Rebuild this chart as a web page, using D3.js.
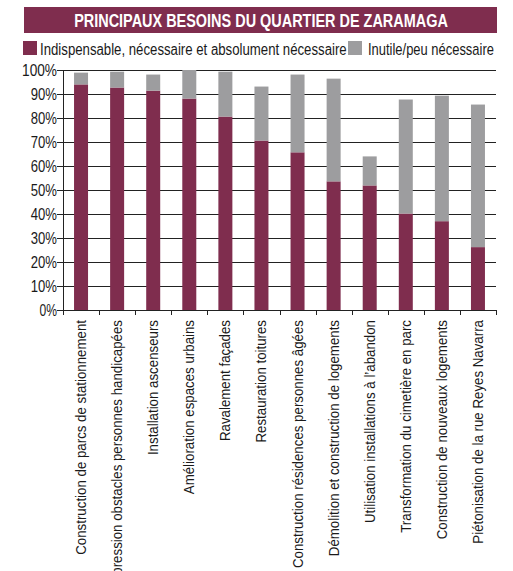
<!DOCTYPE html>
<html>
<head>
<meta charset="utf-8">
<script src="https://cdn.jsdelivr.net/npm/d3@7"></script>
<style>
	body { margin: 0; background: #fff; }
	svg { display: block; }
	text { font-family: "Liberation Sans", Arial, sans-serif; fill: #1a1a1a; }
</style>
</head>
<body>
<script>
var SIZE = { width: 513, height: 571 };
var MARGIN = { top: 70, right: 17, bottom: 261, left: 63 };

var TITLE = 'PRINCIPAUX BESOINS DU QUARTIER DE ZARAMAGA';
var seriesNames = ['Indispensable, nécessaire et absolument nécessaire', 'Inutile/peu nécessaire'];
var colors = ['#7f2d4e', '#9d9d9f'];

var categories = [
	'Construction de parcs de stationnement',
	'Suppression obstacles personnes handicapées',
	'Installation ascenseurs',
	'Amélioration espaces urbains',
	'Ravalement façades',
	'Restauration toitures',
	'Construction résidences personnes âgées',
	'Démolition et construction de logements',
	'Utilisation installations à l\u2019abandon',
	'Transformation du cimetière en parc',
	'Construction de nouveaux logements',
	'Piétonisation de la rue Reyes Navarra'
];
var indispensable = [94, 92.7, 91.4, 88.1, 80.6, 70.6, 65.7, 53.6, 51.9, 40.2, 37, 26.2];
var inutile = [4.9, 6.6, 6.7, 11.9, 18.7, 22.5, 32.4, 42.8, 12.1, 47.5, 52.3, 59.4];
var yTicks = [0, 10, 20, 30, 40, 50, 60, 70, 80, 90, 100];

var rows = categories.map(function (c, i) {
	return { cat: c, a: indispensable[i], b: inutile[i] };
});

var svg = d3.select('body').append('svg')
	.attr('width', SIZE.width)
	.attr('height', SIZE.height);

// squeeze a text horizontally so it looks like the condensed font of the original
function narrowText(parent, x, y, str, size, width, opts) {
	opts = opts || {};
	var t = parent.append('text')
		.style('font-size', size + 'px')
		.attr('text-anchor', opts.anchor || 'start')
		.text(str);
	if (opts.bold) t.style('font-weight', 'bold');
	if (opts.fill) t.style('fill', opts.fill);
	var k = width / t.node().getComputedTextLength();
	t.attr('transform', 'translate(' + x + ',' + y + ')' + (opts.rotate ? ' rotate(-90)' : '') + ' scale(' + k + ',1)');
	return k;
}

// title banner
svg.append('rect')
	.attr('x', 24).attr('y', 7)
	.attr('width', 473).attr('height', 26)
	.attr('fill', colors[0]);
narrowText(svg, 261, 27, TITLE, 18, 374, { anchor: 'middle', bold: true, fill: '#fff' });

// legend
var legend = [
	{ x: 23, tx: 40, w: 307 },
	{ x: 348, tx: 368, w: 126 }
];
legend.forEach(function (l, i) {
	svg.append('rect')
		.attr('x', l.x).attr('y', 41)
		.attr('width', 14).attr('height', 14)
		.attr('fill', colors[i]);
	narrowText(svg, l.tx, 55, seriesNames[i], 16, l.w);
});

var w = SIZE.width - MARGIN.left - MARGIN.right;
var h = SIZE.height - MARGIN.top - MARGIN.bottom;
var g = svg.append('g').attr('transform', 'translate(' + MARGIN.left + ',' + MARGIN.top + ')');

var x = d3.scaleBand().domain(categories).range([0, w]);
var y = d3.scaleLinear().domain([0, 100]).range([h, 0]);
var barW = 14;

// gridlines
g.selectAll('.grid').data(yTicks.slice(1)).enter()
	.append('line')
	.attr('x1', 0).attr('x2', w)
	.attr('y1', function (d) { return Math.round(y(d)) + 0.5; })
	.attr('y2', function (d) { return Math.round(y(d)) + 0.5; })
	.attr('stroke', '#222')
	.attr('stroke-width', 1.2);

// bars
var bars = g.selectAll('.bar').data(rows).enter().append('g');
bars.append('rect')
	.attr('x', function (d) { return x(d.cat) + x.bandwidth() / 2 - barW / 2; })
	.attr('y', function (d) { return y(d.a); })
	.attr('width', barW)
	.attr('height', function (d) { return h - y(d.a); })
	.attr('fill', colors[0]);
bars.append('rect')
	.attr('x', function (d) { return x(d.cat) + x.bandwidth() / 2 - barW / 2; })
	.attr('y', function (d) { return y(d.a + d.b); })
	.attr('width', barW)
	.attr('height', function (d) { return y(d.a) - y(d.a + d.b); })
	.attr('fill', colors[1]);

// y axis
var yAxis = g.append('g')
	.call(d3.axisLeft(y).tickValues(yTicks).tickSize(6).tickFormat(''));
yAxis.select('.domain').attr('stroke', '#222');
yAxis.selectAll('.tick line').attr('stroke', '#222');
yTicks.forEach(function (d) {
	var label = d + '%';
	narrowText(g, -6, y(d) + 5.5, label, 16, label.length * 8.75, { anchor: 'end' });
});

// x axis with ticks at band boundaries
var xg = g.append('g').attr('transform', 'translate(0,' + h + ')');
xg.append('line')
	.attr('x1', 0).attr('x2', w)
	.attr('y1', 0.5).attr('y2', 0.5)
	.attr('stroke', '#222');
var bounds = categories.map(function (c) { return x(c); }).concat([w]);
xg.selectAll('.xt').data(bounds).enter()
	.append('line')
	.attr('x1', function (d) { return Math.round(d) + 0.5; })
	.attr('x2', function (d) { return Math.round(d) + 0.5; })
	.attr('y1', 0).attr('y2', 5)
	.attr('stroke', '#222');

// category labels share one squeeze factor, fitted on the first one
var probe = xg.append('text').style('font-size', '15px').text(categories[0]);
var kx = 235 / probe.node().getComputedTextLength();
probe.remove();
categories.forEach(function (c) {
	var t = xg.append('text')
		.style('font-size', '15px')
		.attr('text-anchor', 'end')
		.text(c);
	t.attr('transform', 'translate(' + (x(c) + x.bandwidth() / 2 + 5) + ',10) rotate(-90) scale(' + kx + ',1)');
});
</script>
</body>
</html>
